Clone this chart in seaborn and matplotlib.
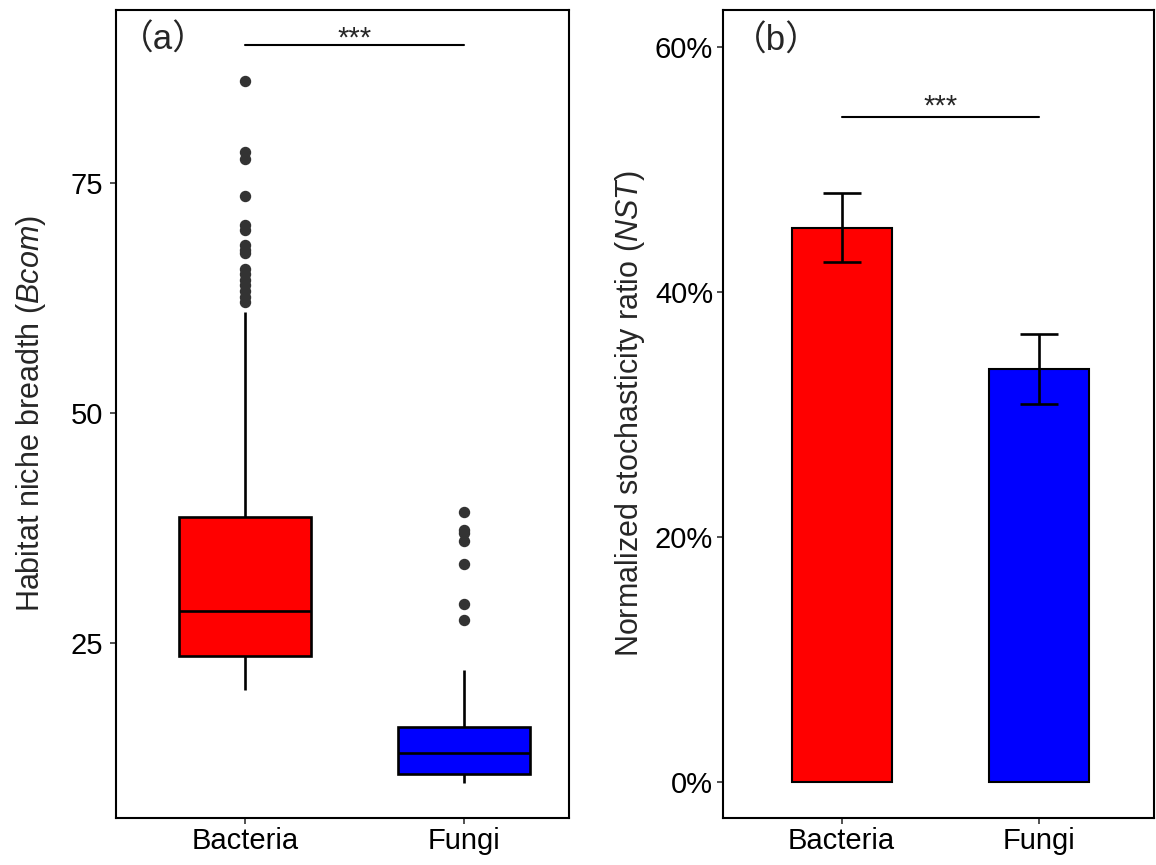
import matplotlib
matplotlib.use('Agg')
import matplotlib.pyplot as plt
import seaborn as sns
import pandas as pd
from matplotlib.ticker import PercentFormatter

sns.set_theme(style="ticks")
plt.rcParams['font.family'] = ['Liberation Sans', 'Noto Sans CJK SC', 'DejaVu Sans']
plt.rcParams['mathtext.fontset'] = 'custom'
plt.rcParams['mathtext.rm'] = 'Liberation Sans'
plt.rcParams['mathtext.it'] = 'Liberation Sans:italic'

groups = ["Bacteria", "Fungi"]
colors = {"Bacteria": "#FF0000", "Fungi": "#0000FF"}

# niche breadth values
bacteria_bcom = [19.9, 20.3, 20.8, 21.1, 21.4, 21.7, 21.9, 22.1, 22.3, 22.5, 22.7, 22.8,
                 23.0, 23.1, 23.3, 23.4, 23.5, 23.6,
                 23.9, 24.3, 24.6, 25.0, 25.3, 25.6, 25.9, 26.2, 26.5, 26.8, 27.1, 27.4,
                 27.7, 27.9, 28.1, 28.3, 28.5,
                 29.0, 29.6, 30.2, 30.8, 31.4, 32.0, 32.6, 33.2, 33.8, 34.4, 35.0, 35.6,
                 36.2, 36.8, 37.4, 38.1, 38.75,
                 61.0, 62.1, 62.7, 63.3, 63.9, 64.5, 65.1, 65.7, 67.4, 67.8, 68.3, 69.9,
                 70.5, 73.6, 77.6, 78.4, 86.1]
fungi_bcom = [9.86, 10.0, 10.2, 10.3, 10.4, 10.5, 10.6, 10.7, 10.84,
              11.1, 11.4, 11.7, 12.0, 12.3, 12.6, 12.9, 13.07,
              13.4, 13.8, 14.2, 14.6, 15.0, 15.3, 15.6, 15.86,
              22.05, 27.5, 29.3, 33.6, 36.1, 37.0, 37.3, 39.3]

# NST mean and error
nst_mean = [0.4525, 0.3371]
nst_err = [0.0284, 0.0283]

box_df = pd.DataFrame({
    "group": ["Bacteria"] * len(bacteria_bcom) + ["Fungi"] * len(fungi_bcom),
    "bcom": bacteria_bcom + fungi_bcom,
})
bar_df = pd.DataFrame({"group": groups, "nst": nst_mean})

fig = plt.figure(figsize=(11.56, 8.65), dpi=100)
ax1 = fig.add_axes([0.1003, 0.0543, 0.3919, 0.9341])
ax2 = fig.add_axes([0.6254, 0.0543, 0.3729, 0.9341])

# panel (a): boxplot
sns.boxplot(data=box_df, x="group", y="bcom", hue="group", palette=colors,
            order=groups, legend=False, width=0.605, linewidth=1.9,
            linecolor="black", showcaps=False, whis=1.5, saturation=1,
            flierprops=dict(marker="o", markerfacecolor="#333333",
                            markeredgecolor="#333333", markersize=7.2),
            ax=ax1)
ax1.set_xlim(-0.589, 1.4795)
ax1.set_ylim(6.0, 93.85)
ax1.set_yticks([25, 50, 75])
ax1.set_xlabel("")
ax1.set_ylabel("Habitat niche breadth ($\\it{Bcom}$)", fontsize=22, labelpad=16)
ax1.plot([0, 1], [90.03, 90.03], color="black", lw=1.5)
ax1.text(0.5, 89.2, "***", ha="center", va="bottom", fontsize=21)
ax1.text(-0.374, 90.6, "（a）", ha="center", va="center", fontsize=25)

# panel (b): bars with error bars
sns.barplot(data=bar_df, x="group", y="nst", hue="group", palette=colors,
            order=groups, legend=False, width=0.505, errorbar=None,
            edgecolor="black", linewidth=1.5, saturation=1, ax=ax2)
ax2.errorbar(groups, nst_mean, yerr=nst_err, fmt="none", ecolor="black",
             elinewidth=1.9, capsize=14, capthick=1.9)
ax2.set_xlim(-0.6, 1.58)
ax2.set_ylim(-0.0294, 0.630)
ax2.set_yticks([0, 0.2, 0.4, 0.6])
ax2.yaxis.set_major_formatter(PercentFormatter(1, decimals=0))
ax2.set_xlabel("")
ax2.set_ylabel("Normalized stochasticity ratio ($\\it{NST}$)", fontsize=22, labelpad=6)
ax2.plot([0, 1], [0.543, 0.543], color="black", lw=1.5)
ax2.text(0.5, 0.5396, "***", ha="center", va="bottom", fontsize=21)
ax2.text(-0.33, 0.605, "（b）", ha="center", va="center", fontsize=25)

for ax in (ax1, ax2):
    for s in ax.spines.values():
        s.set_linewidth(1.5)
        s.set_color("black")
    ax.tick_params(axis="both", labelsize=21, length=4, width=1.2,
                   color="#333333", labelcolor="black")
    ax.tick_params(axis="x", pad=2.5)
ax1.tick_params(axis="y", pad=5.5)
ax2.tick_params(axis="y", pad=3)

fig.savefig("out.png", dpi=100)
